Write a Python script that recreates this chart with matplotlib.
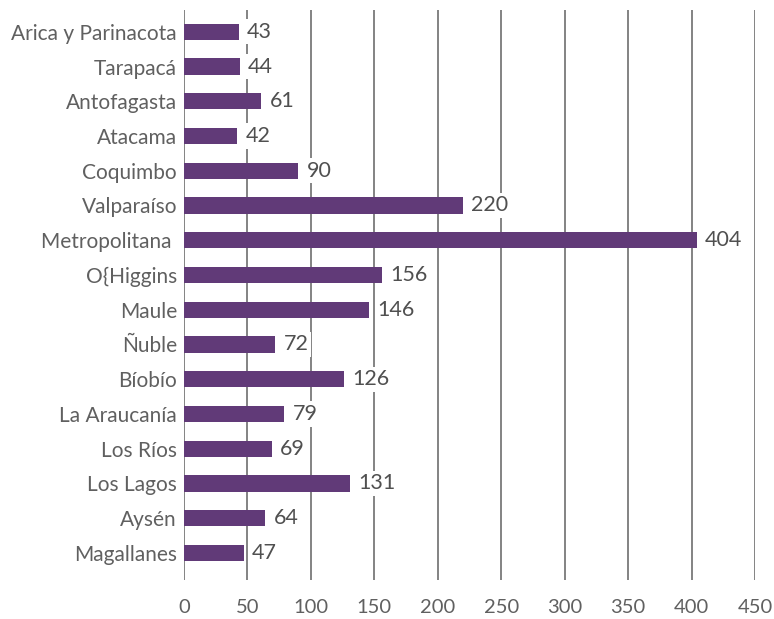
import matplotlib.pyplot as plt

plt.rcParams['font.family'] = ['Lato', 'DejaVu Sans']

# Data
regions = ["Arica y Parinacota", "Tarapacá", "Antofagasta", "Atacama", "Coquimbo",
           "Valparaíso", "Metropolitana ", "O{Higgins", "Maule", "Ñuble", "Bíobío",
           "La Araucanía", "Los Ríos", "Los Lagos", "Aysén", "Magallanes"]
values = [43, 44, 61, 42, 90, 220, 404, 156, 146, 72, 126, 79, 69, 131, 64, 47]
xticks = [0, 50, 100, 150, 200, 250, 300, 350, 400, 450]

bar_color = "#613a78"
grid_color = "#7a7a7a"
text_color = "#606060"

fig = plt.figure(figsize=(7.74, 6.19), dpi=100)
ax = fig.add_axes([0.2377, 0.063, 0.7378, 0.921])

pos = list(range(len(regions)))
ax.barh(pos, values, height=0.47, color=bar_color, zorder=2)

# vertical gridlines
for t in xticks:
    ax.axvline(t, color=grid_color, lw=1.3, zorder=1)

# value labels with white boxes
for p, v in zip(pos, values):
    ax.annotate(str(v), (v, p), xytext=(6, 0), textcoords="offset points",
                ha="left", va="center", fontsize=15.5, color="#505050",
                bbox=dict(boxstyle="square,pad=0.12", fc="white", ec="none"),
                zorder=3)

ax.set_xlim(0, 450)
ax.set_ylim(15.78, -0.63)
ax.set_xticks(xticks)
ax.set_yticks(pos)
ax.set_yticklabels(regions)
ax.tick_params(axis="both", length=0, labelcolor=text_color)
ax.tick_params(axis="x", pad=14, labelsize=14.5)
ax.tick_params(axis="y", pad=5, labelsize=15)
for s in ax.spines.values():
    s.set_visible(False)

fig.savefig("out.png", dpi=100)
